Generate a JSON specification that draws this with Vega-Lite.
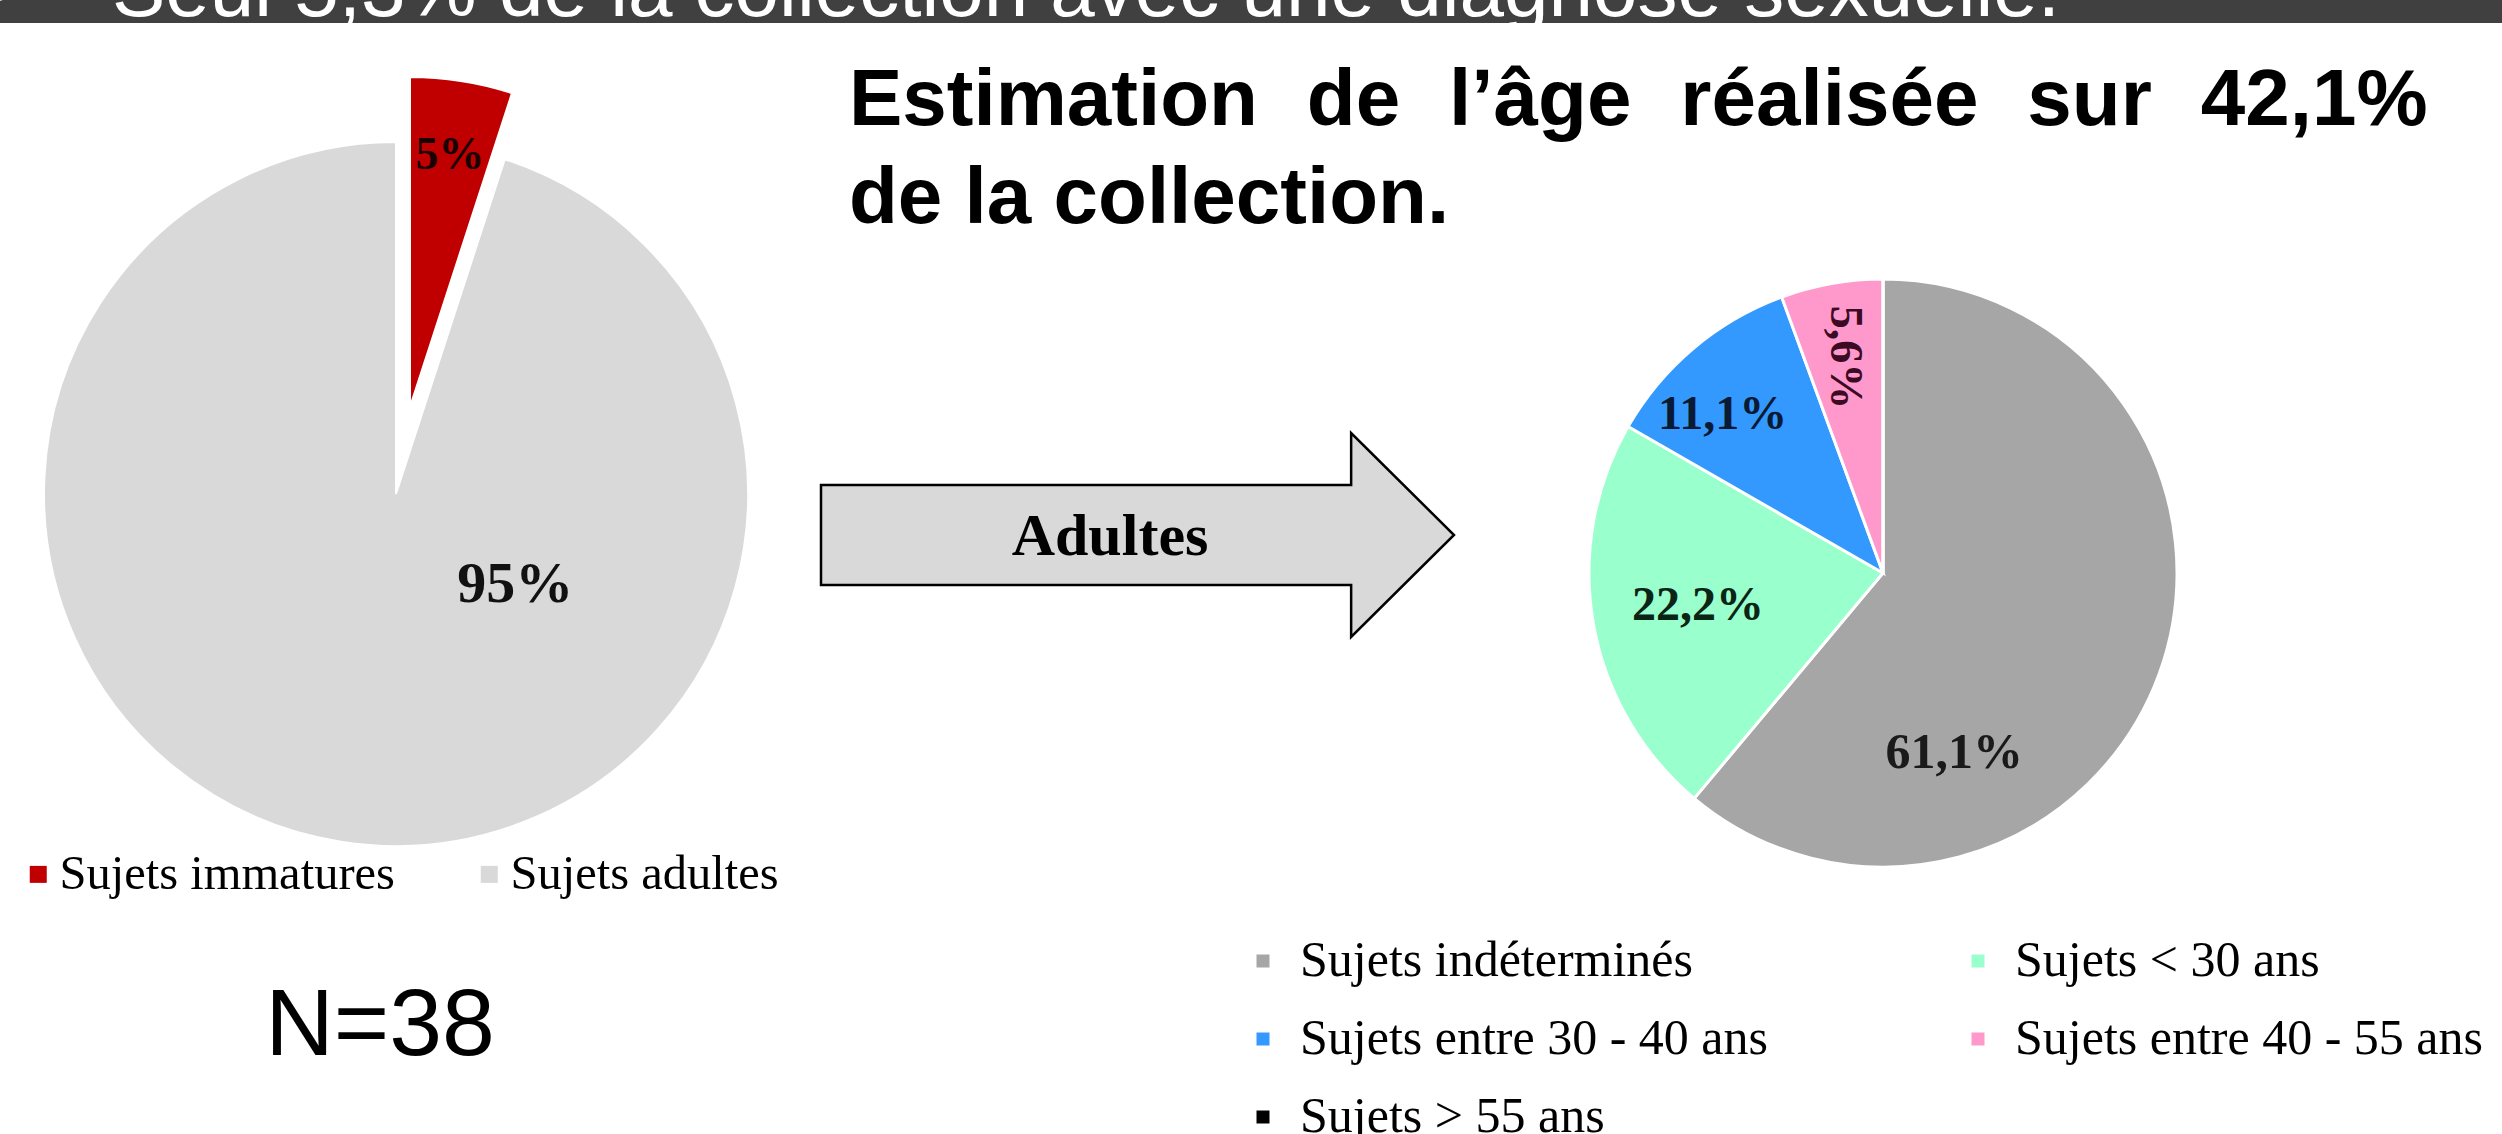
{
  "$schema": "https://vega.github.io/schema/vega-lite/v6.json",
  "width": 2502,
  "height": 1134,
  "autosize": {"type": "none"},
  "padding": 0,
  "background": "#ffffff",
  "config": {"view": {"stroke": null}, "font": "Liberation Sans"},
  "datasets": {
    "entete": [{"puce": "➢", "texte": "Seul 5,3% de la collection avec une diagnose sexuelle."}],
    "titre": [{"texte": ["Estimation \u2004de \u2004l’âge \u2004réalisée \u2004sur \u200442,1%", "de la collection."]}],
    "effectif": [{"texte": "N=38"}],
    "fleche": [{"texte": "Adultes"}],
    "immatures_adultes": [
      {"categorie": "Sujets immatures", "pourcentage": 5, "etiquette": "5%", "rang": 1},
      {"categorie": "Sujets adultes", "pourcentage": 95, "etiquette": "95%", "rang": 2}
    ],
    "estimation_age": [
      {"categorie": "Sujets indéterminés", "pourcentage": 61.1, "etiquette": "61,1%", "rang": 1},
      {"categorie": "Sujets < 30 ans", "pourcentage": 22.2, "etiquette": "22,2%", "rang": 2},
      {"categorie": "Sujets entre 30 - 40 ans", "pourcentage": 11.1, "etiquette": "11,1%", "rang": 3},
      {"categorie": "Sujets entre 40 - 55 ans", "pourcentage": 5.6, "etiquette": "5,6%", "rang": 4},
      {"categorie": "Sujets > 55 ans", "pourcentage": 0, "etiquette": "", "rang": 5}
    ]
  },
  "layer": [
    {
      "data": {"name": "entete"},
      "mark": {"type": "rect", "color": "#404040"},
      "encoding": {"x": {"value": 0}, "x2": {"value": "width"}, "y": {"value": 0}, "y2": {"value": 23}}
    },
    {
      "data": {"name": "entete"},
      "mark": {"type": "text", "font": "Liberation Sans", "fontSize": 80, "color": "#ffffff", "align": "left", "baseline": "alphabetic", "x": 112, "y": 16},
      "encoding": {"text": {"field": "texte"}}
    },
    {
      "data": {"name": "entete"},
      "mark": {"type": "text", "font": "DejaVu Sans", "fontSize": 64, "color": "#ffffff", "align": "right", "baseline": "alphabetic", "x": 18, "y": 16},
      "encoding": {"text": {"field": "puce"}}
    },
    {
      "data": {"name": "titre"},
      "mark": {"type": "text", "font": "Liberation Sans", "fontWeight": "bold", "fontSize": 80, "lineHeight": 98, "color": "#000000", "align": "left", "baseline": "alphabetic", "x": 849, "y": 125},
      "encoding": {"text": {"field": "texte"}}
    },
    {
      "data": {"name": "effectif"},
      "mark": {"type": "text", "font": "Liberation Sans", "fontSize": 95, "color": "#000000", "align": "center", "baseline": "alphabetic", "x": 380, "y": 1055},
      "encoding": {"text": {"field": "texte"}}
    },
    {
      "data": {"name": "fleche"},
      "mark": {"type": "point", "shape": "M-1,-0.158L0.675,-0.158L0.675,-0.322L1,0L0.675,0.322L0.675,0.158L-1,0.158Z", "size": 400689, "filled": true, "fill": "#d9d9d9", "stroke": "#000000", "strokeWidth": 2.5, "opacity": 1, "x": 1137.5, "y": 535},
      "encoding": {}
    },
    {
      "data": {"name": "fleche"},
      "mark": {"type": "text", "font": "Liberation Serif", "fontWeight": "bold", "fontSize": 60, "color": "#000000", "align": "center", "baseline": "middle", "x": 1110, "y": 537},
      "encoding": {"text": {"field": "texte"}}
    },
    {
      "data": {"name": "immatures_adultes"},
      "layer": [
        {
          "mark": {"type": "arc", "x": 396, "y": 494, "outerRadius": 352, "stroke": "#ffffff", "strokeWidth": 2},
          "encoding": {
            "theta": {"field": "pourcentage", "type": "quantitative", "stack": true},
            "order": {"field": "rang", "type": "quantitative"},
            "color": {
              "field": "categorie", "type": "nominal",
              "scale": {"domain": ["Sujets immatures", "Sujets adultes"], "range": ["#c00000", "#d9d9d9"]},
              "legend": {"orient": "none", "legendX": 14, "legendY": 850, "direction": "horizontal", "title": null, "padding": 0,
                "labelFont": "Liberation Serif", "labelFontSize": 48.5, "labelColor": "#000000", "labelOffset": -3, "labelLimit": 0,
                "symbolType": "square", "symbolSize": 289, "symbolStrokeWidth": 0, "symbolOpacity": 1, "columnPadding": 70}
            },
            "opacity": {"condition": {"test": "datum.categorie === 'Sujets immatures'", "value": 0}, "value": 1}
          }
        },
        {
          "mark": {"type": "arc", "x": 410, "y": 407, "outerRadius": 330, "stroke": "#ffffff", "strokeWidth": 2},
          "encoding": {
            "theta": {"field": "pourcentage", "type": "quantitative", "stack": true},
            "order": {"field": "rang", "type": "quantitative"},
            "color": {"field": "categorie", "type": "nominal"},
            "opacity": {"condition": {"test": "datum.categorie === 'Sujets immatures'", "value": 1}, "value": 0}
          }
        },
        {
          "mark": {"type": "text", "x": 410, "y": 407, "radius": 255, "font": "Liberation Serif", "fontWeight": "bold", "fontSize": 46, "color": "#1a0000", "baseline": "middle", "align": "center"},
          "encoding": {
            "theta": {"field": "pourcentage", "type": "quantitative", "stack": true},
            "order": {"field": "rang", "type": "quantitative"},
            "text": {"field": "etiquette"},
            "opacity": {"condition": {"test": "datum.categorie === 'Sujets immatures'", "value": 1}, "value": 0}
          }
        },
        {
          "mark": {"type": "text", "x": 396, "y": 494, "radius": 150, "thetaOffset": -1.075, "font": "Liberation Serif", "fontWeight": "bold", "fontSize": 58, "color": "#111111", "baseline": "middle", "align": "center"},
          "encoding": {
            "theta": {"field": "pourcentage", "type": "quantitative", "stack": true},
            "order": {"field": "rang", "type": "quantitative"},
            "text": {"field": "etiquette"},
            "opacity": {"condition": {"test": "datum.categorie === 'Sujets adultes'", "value": 1}, "value": 0}
          }
        }
      ]
    },
    {
      "data": {"name": "estimation_age"},
      "layer": [
        {
          "mark": {"type": "arc", "x": 1883, "y": 573, "outerRadius": 294, "stroke": "#ffffff", "strokeWidth": 3},
          "encoding": {
            "theta": {"field": "pourcentage", "type": "quantitative", "stack": true},
            "order": {"field": "rang", "type": "quantitative"},
            "color": {
              "field": "categorie", "type": "nominal",
              "scale": {"domain": ["Sujets indéterminés", "Sujets < 30 ans", "Sujets entre 30 - 40 ans", "Sujets entre 40 - 55 ans", "Sujets > 55 ans"],
                        "range": ["#a6a6a6", "#99ffcc", "#3399ff", "#ff99cc", "#000000"]},
              "legend": {"orient": "none", "legendX": 1238, "legendY": 936, "columns": 2, "direction": "horizontal", "title": null, "padding": 0,
                "labelFont": "Liberation Serif", "labelFontSize": 50, "labelColor": "#000000", "labelOffset": 12, "labelLimit": 0,
                "symbolType": "square", "symbolSize": 169, "symbolStrokeWidth": 0, "symbolOpacity": 1,
                "columnPadding": 185, "rowPadding": 28}
            }
          }
        },
        {
          "mark": {"type": "text", "x": 1883, "y": 573, "radius": 225, "thetaOffset": -0.093, "font": "Liberation Serif", "fontWeight": "bold", "fontSize": 48, "color": "#0a1a33", "baseline": "middle", "align": "center"},
          "encoding": {
            "theta": {"field": "pourcentage", "type": "quantitative", "stack": true},
            "order": {"field": "rang", "type": "quantitative"},
            "text": {"field": "etiquette"},
            "opacity": {"condition": {"test": "datum.categorie === 'Sujets entre 30 - 40 ans'", "value": 1}, "value": 0}
          }
        },
        {
          "mark": {"type": "text", "x": 1883, "y": 573, "radius": 188, "font": "Liberation Serif", "fontWeight": "bold", "fontSize": 48, "color": "#0a2415", "baseline": "middle", "align": "center"},
          "encoding": {
            "theta": {"field": "pourcentage", "type": "quantitative", "stack": true},
            "order": {"field": "rang", "type": "quantitative"},
            "text": {"field": "etiquette"},
            "opacity": {"condition": {"test": "datum.categorie === 'Sujets < 30 ans'", "value": 1}, "value": 0}
          }
        },
        {
          "mark": {"type": "text", "x": 1883, "y": 573, "radius": 219, "angle": 90, "font": "Liberation Serif", "fontWeight": "bold", "fontSize": 46, "color": "#3d0a24", "baseline": "middle", "align": "center"},
          "encoding": {
            "theta": {"field": "pourcentage", "type": "quantitative", "stack": true},
            "order": {"field": "rang", "type": "quantitative"},
            "text": {"field": "etiquette"},
            "opacity": {"condition": {"test": "datum.categorie === 'Sujets entre 40 - 55 ans'", "value": 1}, "value": 0}
          }
        },
        {
          "mark": {"type": "text", "x": 1883, "y": 573, "radius": 194, "thetaOffset": 0.846, "font": "Liberation Serif", "fontWeight": "bold", "fontSize": 50, "color": "#1a1a1a", "baseline": "middle", "align": "center"},
          "encoding": {
            "theta": {"field": "pourcentage", "type": "quantitative", "stack": true},
            "order": {"field": "rang", "type": "quantitative"},
            "text": {"field": "etiquette"},
            "opacity": {"condition": {"test": "datum.categorie === 'Sujets indéterminés'", "value": 1}, "value": 0}
          }
        }
      ]
    }
  ],
  "resolve": {"scale": {"color": "independent", "theta": "independent"}, "legend": {"color": "independent"}}
}
